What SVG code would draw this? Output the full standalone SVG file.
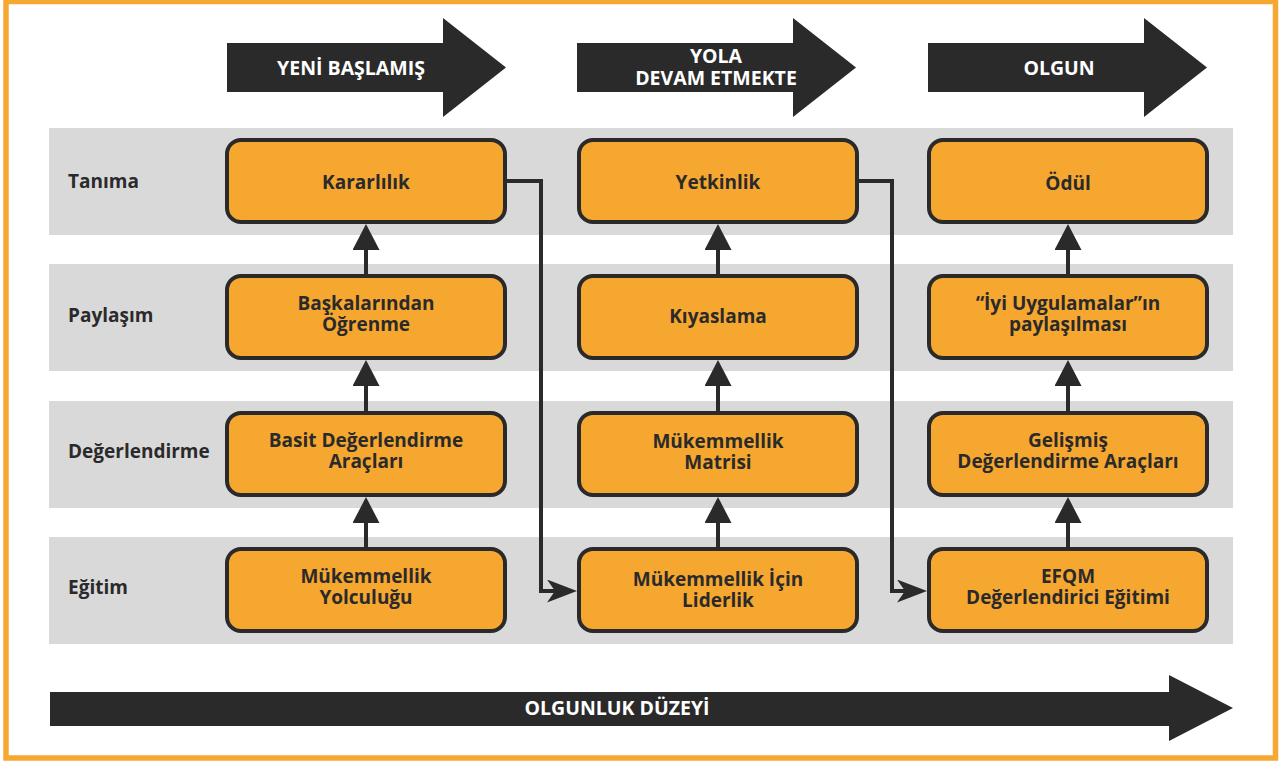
<svg xmlns="http://www.w3.org/2000/svg" width="1286" height="765" viewBox="0 0 1286 765">
<defs>
<style>
.band{fill:#d9d9d9}
.node{fill:#f6a730;stroke:#2b2a2b;stroke-width:4}
.t{font-family:"Open Sans","Liberation Sans",sans-serif;font-weight:700;font-size:19px;fill:#2b2a2b;text-anchor:middle}
.lbl{font-family:"Open Sans","Liberation Sans",sans-serif;font-weight:700;font-size:19px;fill:#2b2a2b}
.w{font-family:"Open Sans","Liberation Sans",sans-serif;font-weight:700;font-size:19.5px;fill:#ffffff;text-anchor:middle}
.big{fill:#2b2a2b}
.con{fill:none;stroke:#2b2a2b;stroke-width:4}
</style>
<marker id="up" markerUnits="userSpaceOnUse" markerWidth="28" markerHeight="28" refX="0" refY="13.5" orient="auto" viewBox="0 0 28 28">
<path d="M0,0 L26,13.5 L0,27 z" fill="#2b2a2b"/>
</marker>
<marker id="side" markerUnits="userSpaceOnUse" markerWidth="32" markerHeight="24" refX="8" refY="11.5" orient="auto" viewBox="0 0 32 24">
<path d="M0,0 L30,11.5 L0,23 L8,11.5 z" fill="#2b2a2b"/>
</marker>
</defs>
<rect x="0" y="0" width="1286" height="765" fill="#ffffff"/>
<rect x="6" y="1.5" width="1269.5" height="756.5" fill="none" stroke="#f7a833" stroke-width="5.5"/>

<g id="stages">
<g id="stage-yeni">
<polygon class="big" points="227,43 443,43 443,18 506,67.5 443,117 443,92 227,92"/>
<text class="w" x="351" y="75">YENİ BAŞLAMIŞ</text>
</g>
<g id="stage-yola">
<polygon class="big" points="577,43 793,43 793,18 856,67.5 793,117 793,92 577,92"/>
<text class="w" x="716" y="63">YOLA</text>
<text class="w" x="716" y="85">DEVAM ETMEKTE</text>
</g>
<g id="stage-olgun">
<polygon class="big" points="928,43 1144,43 1144,18 1207,67.5 1144,117 1144,92 928,92"/>
<text class="w" x="1059" y="75">OLGUN</text>
</g>
</g>

<g id="rows">
<g id="row-tanima"><rect class="band" x="49" y="128" width="1184" height="107"/><text class="lbl" x="68" y="188">Tanıma</text></g>
<g id="row-paylasim"><rect class="band" x="49" y="264" width="1184" height="107"/><text class="lbl" x="68" y="322">Paylaşım</text></g>
<g id="row-degerlendirme"><rect class="band" x="49" y="401" width="1184" height="107"/><text class="lbl" x="68" y="458">Değerlendirme</text></g>
<g id="row-egitim"><rect class="band" x="49" y="537" width="1184" height="107"/><text class="lbl" x="68" y="594">Eğitim</text></g>
</g>

<g id="connectors">
<line class="con" x1="366" y1="274" x2="366" y2="250" marker-end="url(#up)"/>
<line class="con" x1="366" y1="411" x2="366" y2="386" marker-end="url(#up)"/>
<line class="con" x1="366" y1="547" x2="366" y2="523" marker-end="url(#up)"/>
<line class="con" x1="718" y1="274" x2="718" y2="250" marker-end="url(#up)"/>
<line class="con" x1="718" y1="411" x2="718" y2="386" marker-end="url(#up)"/>
<line class="con" x1="718" y1="547" x2="718" y2="523" marker-end="url(#up)"/>
<line class="con" x1="1068" y1="274" x2="1068" y2="250" marker-end="url(#up)"/>
<line class="con" x1="1068" y1="411" x2="1068" y2="386" marker-end="url(#up)"/>
<line class="con" x1="1068" y1="547" x2="1068" y2="523" marker-end="url(#up)"/>
<path class="con" d="M507,181 H541 V591 H555" marker-end="url(#side)"/>
<path class="con" d="M859,181 H892 V591 H905" marker-end="url(#side)"/>
</g>

<g id="n-kararlilik"><rect class="node" x="227" y="140" width="278" height="82" rx="14"/><text class="t" x="366" y="189">Kararlılık</text></g>
<g id="n-yetkinlik"><rect class="node" x="579" y="140" width="278" height="82" rx="14"/><text class="t" x="718" y="189">Yetkinlik</text></g>
<g id="n-odul"><rect class="node" x="929" y="140" width="278" height="82" rx="14"/><text class="t" x="1068" y="190">Ödül</text></g>

<g id="n-baskalarindan"><rect class="node" x="227" y="276" width="278" height="82" rx="14"/><text class="t" x="366" y="310">Başkalarından</text><text class="t" x="366" y="331">Öğrenme</text></g>
<g id="n-kiyaslama"><rect class="node" x="579" y="276" width="278" height="82" rx="14"/><text class="t" x="718" y="323">Kıyaslama</text></g>
<g id="n-iyi"><rect class="node" x="929" y="276" width="278" height="82" rx="14"/><text class="t" x="1068" y="310">“İyi Uygulamalar”ın</text><text class="t" x="1068" y="331">paylaşılması</text></g>

<g id="n-basit"><rect class="node" x="227" y="413" width="278" height="82" rx="14"/><text class="t" x="366" y="447">Basit Değerlendirme</text><text class="t" x="366" y="468">Araçları</text></g>
<g id="n-matris"><rect class="node" x="579" y="413" width="278" height="82" rx="14"/><text class="t" x="718" y="448">Mükemmellik</text><text class="t" x="718" y="469">Matrisi</text></g>
<g id="n-gelismis"><rect class="node" x="929" y="413" width="278" height="82" rx="14"/><text class="t" x="1068" y="447">Gelişmiş</text><text class="t" x="1068" y="468">Değerlendirme Araçları</text></g>

<g id="n-yolculugu"><rect class="node" x="227" y="549" width="278" height="82" rx="14"/><text class="t" x="366" y="583">Mükemmellik</text><text class="t" x="366" y="604">Yolculuğu</text></g>
<g id="n-liderlik"><rect class="node" x="579" y="549" width="278" height="82" rx="14"/><text class="t" x="718" y="586">Mükemmellik İçin</text><text class="t" x="718" y="607">Liderlik</text></g>
<g id="n-efqm"><rect class="node" x="929" y="549" width="278" height="82" rx="14"/><text class="t" x="1068" y="583">EFQM</text><text class="t" x="1068" y="604">Değerlendirici Eğitimi</text></g>

<g id="maturity">
<polygon class="big" points="50,692 1169,692 1169,675 1233,708 1169,741 1169,726 50,726"/>
<text class="w" x="617" y="715">OLGUNLUK DÜZEYİ</text>
</g>
</svg>
